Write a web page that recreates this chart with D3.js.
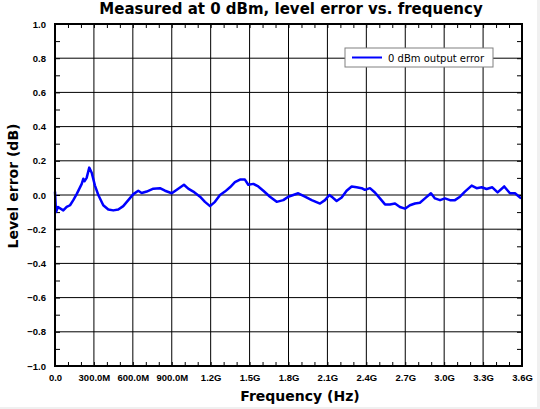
<!DOCTYPE html>
<html lang="en">
<head>
    <meta charset="UTF-8">
    <title>Level error vs. frequency</title>
    <script src="https://cdnjs.cloudflare.com/ajax/libs/d3/7.8.5/d3.min.js"></script>
    <style>
        body {
            margin: 0;
            background: #f0f0f0;
        }

        svg {
            display: block;
            font-family: "DejaVu Sans", sans-serif;
        }

        .tick text {
            font-size: 9.5px;
            font-weight: bold;
            fill: #000;
        }
    </style>
</head>
<body>

<svg id="chart" width="540" height="409"></svg>

<script>
    // frequency in MHz, level error in dB
    let freqMHz = [0, 8, 23, 64, 90, 116, 141, 167, 206, 218, 227, 244, 264, 283, 308, 334, 372, 411, 449, 488,
        526, 565, 604, 642, 668, 707, 758, 809, 848, 900, 950, 994, 1027, 1066, 1118, 1156, 1195, 1233, 1272,
        1310, 1349, 1387, 1426, 1464, 1490, 1529, 1567, 1606, 1657, 1709, 1760, 1798, 1837, 1875, 1927, 1979,
        2043, 2081, 2115, 2141, 2171, 2210, 2248, 2287, 2325, 2364, 2389, 2428, 2466, 2505, 2544, 2582, 2621,
        2659, 2698, 2736, 2775, 2813, 2852, 2898, 2929, 2968, 3006, 3045, 3083, 3122, 3160, 3212, 3250, 3289,
        3327, 3371, 3412, 3463, 3507, 3546, 3585, 3600];

    let levelErrorDb = [0.02, -0.10, -0.07, -0.09, -0.07, -0.06, -0.03, 0.005, 0.065, 0.095, 0.08, 0.10, 0.16,
        0.13, 0.055, 0.0, -0.06, -0.085, -0.09, -0.085, -0.065, -0.03, 0.005, 0.025, 0.012, 0.02, 0.037, 0.04,
        0.025, 0.01, 0.037, 0.06, 0.037, 0.02, -0.01, -0.04, -0.065, -0.04, 0.0, 0.02, 0.045, 0.075, 0.09, 0.09,
        0.06, 0.065, 0.05, 0.025, -0.01, -0.04, -0.03, -0.01, 0.0, 0.01, -0.01, -0.03, -0.05, -0.03, 0.0, -0.015,
        -0.035, -0.015, 0.025, 0.05, 0.045, 0.04, 0.03, 0.04, 0.015, -0.02, -0.055, -0.055, -0.05, -0.07, -0.08,
        -0.06, -0.05, -0.045, -0.02, 0.01, -0.02, -0.03, -0.02, -0.03, -0.03, -0.01, 0.02, 0.055, 0.04, 0.045,
        0.035, 0.045, 0.015, 0.05, 0.01, 0.01, -0.015, -0.02];

    let xTicks = [0, 300, 600, 900, 1200, 1500, 1800, 2100, 2400, 2700, 3000, 3300, 3600];
    let xTickLabels = ["0.0", "300.0M", "600.0M", "900.0M", "1.2G", "1.5G", "1.8G", "2.1G", "2.4G", "2.7G",
        "3.0G", "3.3G", "3.6G"];
    let yTicks = [-1.0, -0.8, -0.6, -0.4, -0.2, 0.0, 0.2, 0.4, 0.6, 0.8, 1.0];

    let seriesName = "0 dBm output error";

    let plotLeft = 55, plotRight = 522, plotTop = 24, plotBottom = 366;

    let svg = d3.select("#chart");

    svg.append("rect")
        .attr("width", 537)
        .attr("height", 407)
        .attr("fill", "#fff");

    let x = d3.scaleLinear().domain([0, 3600]).range([plotLeft, plotRight]);
    let y = d3.scaleLinear().domain([-1, 1]).range([plotBottom, plotTop]);

    // grid
    svg.append("g")
        .selectAll("line")
        .data(xTicks)
        .join("line")
        .attr("x1", d => x(d))
        .attr("x2", d => x(d))
        .attr("y1", plotTop)
        .attr("y2", plotBottom)
        .attr("stroke", "#000")
        .attr("stroke-width", 1);

    svg.append("g")
        .selectAll("line")
        .data(yTicks)
        .join("line")
        .attr("x1", plotLeft)
        .attr("x2", plotRight)
        .attr("y1", d => y(d))
        .attr("y2", d => y(d))
        .attr("stroke", "#000")
        .attr("stroke-width", 1);

    // minor ticks, pointing inward on all four sides
    let xMinor = d3.range(0, 3601, 100);
    let yMinor = d3.range(-10, 11).map(d => d / 10);

    svg.append("g")
        .attr("transform", "translate(0," + plotBottom + ")")
        .call(d3.axisBottom(x).tickValues(xMinor).tickSize(-4).tickFormat(""))
        .call(g => g.select(".domain").remove());
    svg.append("g")
        .attr("transform", "translate(0," + plotTop + ")")
        .call(d3.axisTop(x).tickValues(xMinor).tickSize(-4).tickFormat(""))
        .call(g => g.select(".domain").remove());
    svg.append("g")
        .attr("transform", "translate(" + plotLeft + ",0)")
        .call(d3.axisLeft(y).tickValues(yMinor).tickSize(-5).tickFormat(""))
        .call(g => g.select(".domain").remove());
    svg.append("g")
        .attr("transform", "translate(" + plotRight + ",0)")
        .call(d3.axisRight(y).tickValues(yMinor).tickSize(-5).tickFormat(""))
        .call(g => g.select(".domain").remove());

    // tick labels
    svg.append("g")
        .attr("transform", "translate(0," + plotBottom + ")")
        .call(d3.axisBottom(x).tickValues(xTicks).tickSize(0).tickPadding(8)
            .tickFormat((d, i) => xTickLabels[i]))
        .call(g => g.select(".domain").remove());

    svg.append("g")
        .attr("transform", "translate(" + plotLeft + ",0)")
        .call(d3.axisLeft(y).tickValues(yTicks).tickSize(0).tickPadding(9).tickFormat(d3.format(".1f")))
        .call(g => g.select(".domain").remove());

    // data line
    let line = d3.line()
        .x((d, i) => x(freqMHz[i]))
        .y(d => y(d));

    svg.append("path")
        .datum(levelErrorDb)
        .attr("d", line)
        .attr("fill", "none")
        .attr("stroke", "#0000ff")
        .attr("stroke-width", 2.5)
        .attr("stroke-linejoin", "round");

    // frame
    svg.append("rect")
        .attr("x", plotLeft)
        .attr("y", plotTop)
        .attr("width", plotRight - plotLeft)
        .attr("height", plotBottom - plotTop)
        .attr("fill", "none")
        .attr("stroke", "#000")
        .attr("stroke-width", 2);

    // legend
    let legend = svg.append("g").attr("transform", "translate(345,48)");
    legend.append("rect")
        .attr("width", 148)
        .attr("height", 19)
        .attr("fill", "#fff")
        .attr("stroke", "#808080")
        .attr("stroke-width", 1);
    legend.append("line")
        .attr("x1", 7)
        .attr("x2", 37)
        .attr("y1", 9.5)
        .attr("y2", 9.5)
        .attr("stroke", "#0000ff")
        .attr("stroke-width", 2);
    legend.append("text")
        .attr("x", 43)
        .attr("y", 13.5)
        .attr("font-size", 10)
        .text(seriesName);

    // titles
    svg.append("text")
        .attr("x", 291)
        .attr("y", 14)
        .attr("text-anchor", "middle")
        .attr("font-size", 15)
        .attr("font-weight", "bold")
        .text("Measured at 0 dBm, level error vs. frequency");

    svg.append("text")
        .attr("x", 300)
        .attr("y", 401)
        .attr("text-anchor", "middle")
        .attr("font-size", 14)
        .attr("font-weight", "bold")
        .text("Frequency (Hz)");

    svg.append("text")
        .attr("transform", "translate(18,186) rotate(-90)")
        .attr("text-anchor", "middle")
        .attr("font-size", 14)
        .attr("font-weight", "bold")
        .text("Level error (dB)");
</script>

</body>
</html>
